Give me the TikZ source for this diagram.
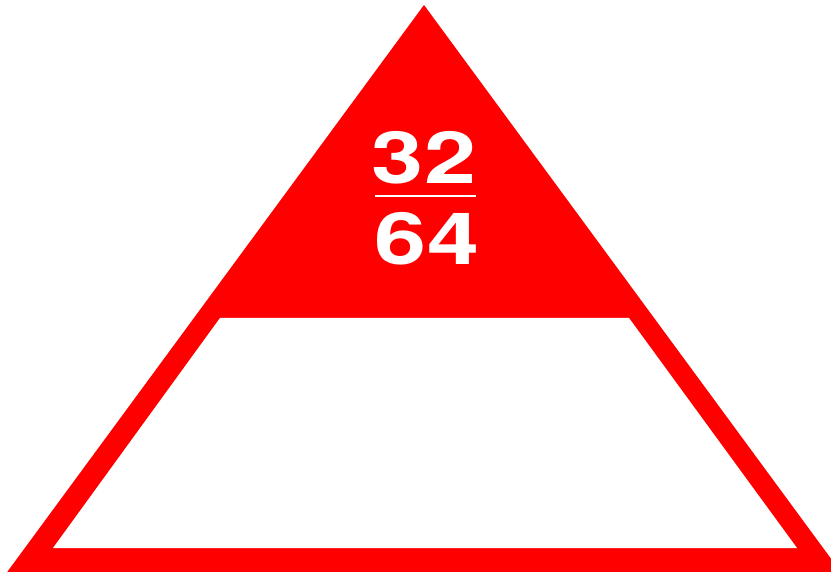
\documentclass[tikz,border=0pt]{standalone}
\usepackage{fontspec}
\newfontfamily\signfont[FakeStretch=1.3]{TeX Gyre Heros}
\definecolor{signred}{RGB}{255,0,0}
\tikzset{
	digits/.style={text=white, font=\signfont\bfseries\fontsize{72}{72}\selectfont, inner sep=0pt, anchor=center},
}
\begin{document}
\begin{tikzpicture}[x=1pt, y=-1pt]
	\useasboundingbox (0,0) rectangle (831,572);
	\clip (0,0) rectangle (831,572);
	% outer red triangle
	\fill[signred] (424,5) -- (5,575) -- (843,575) -- cycle;
	% white band cut out below the red top
	\fill[white] (220,318) -- (629,318) -- (797,548) -- (53,548) -- cycle;
	% the fraction
	\node[digits] (num) at (424,158) {32};
	\node[digits] (den) at (427,239) {64};
	\draw[white, line width=2.2pt] (375,196) -- (476,196);
\end{tikzpicture}
\end{document}
